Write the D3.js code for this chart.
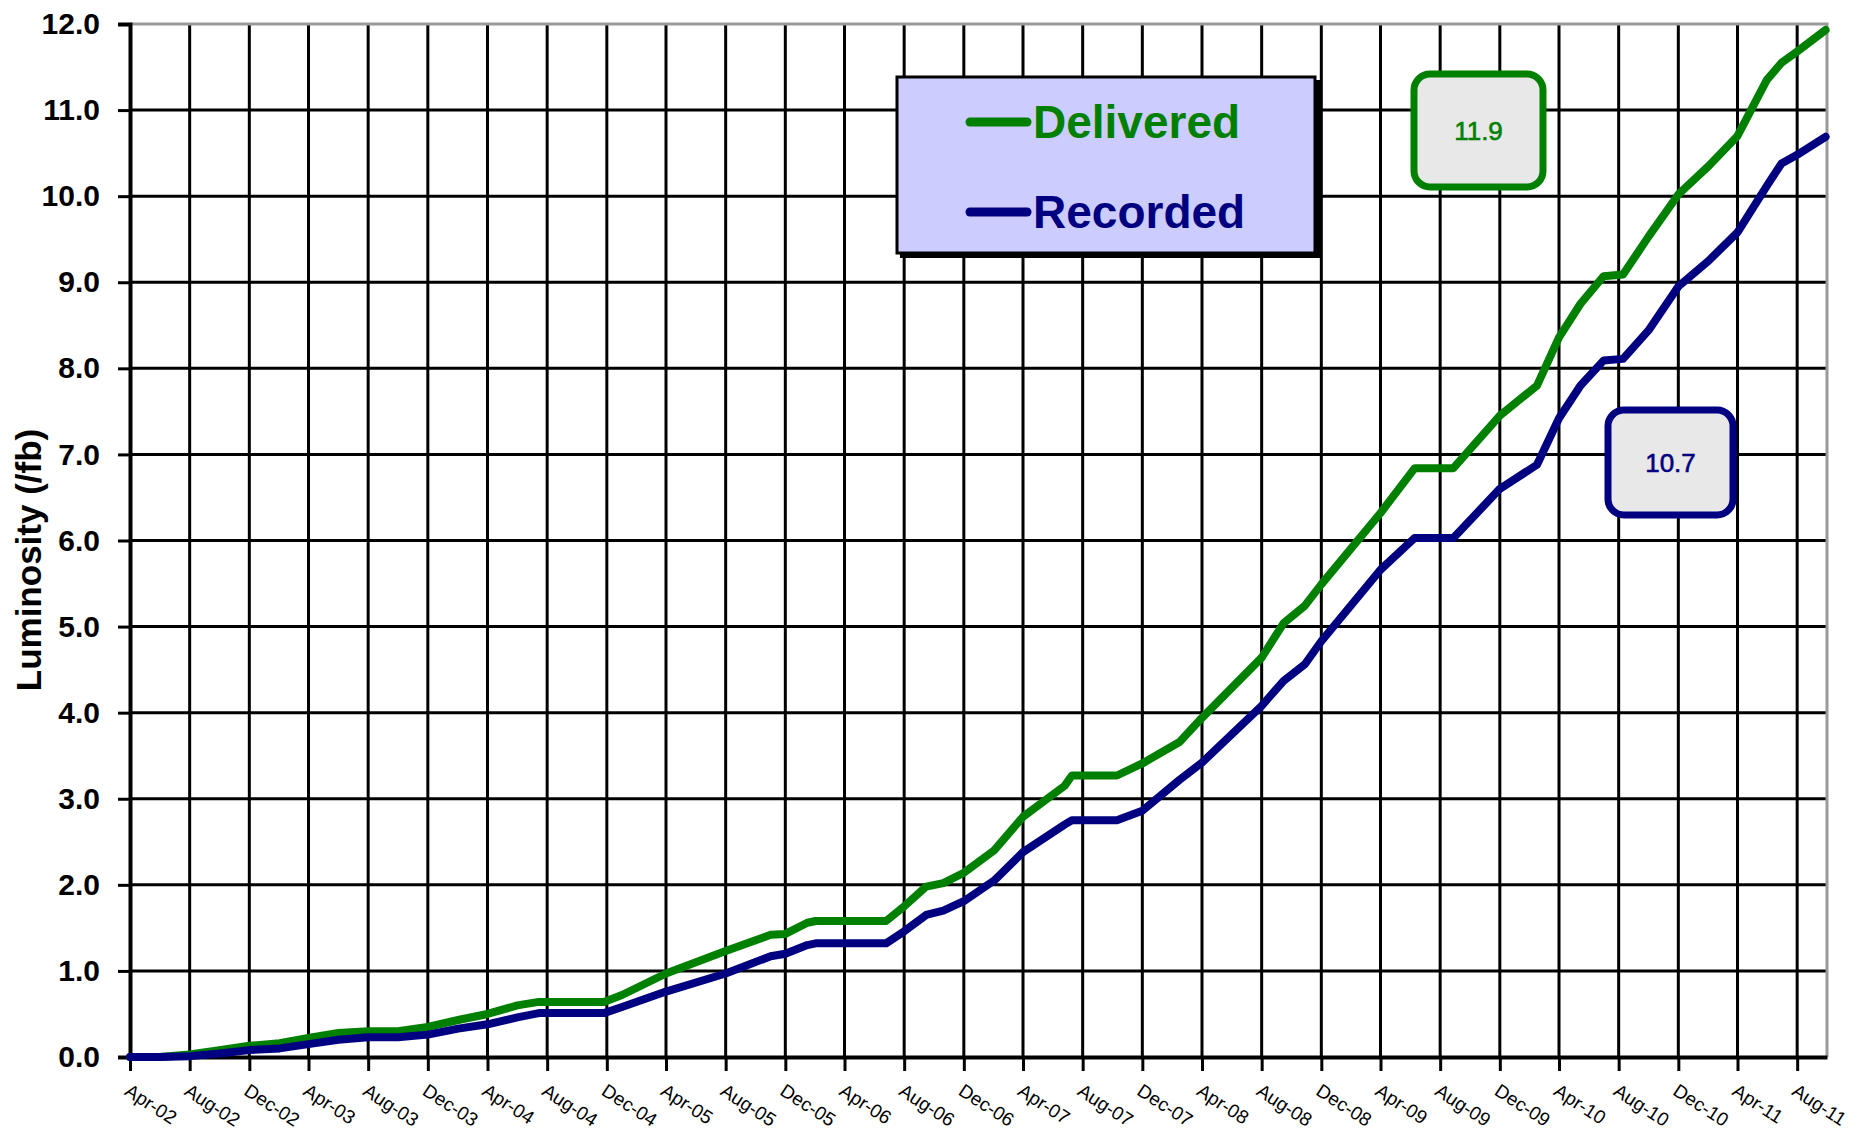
<!DOCTYPE html>
<html>
<head>
<meta charset="utf-8">
<script src="https://cdn.jsdelivr.net/npm/d3@7/dist/d3.min.js"></script>
<style>
  html, body { margin: 0; padding: 0; background: #ffffff; }
  svg { display: block; }
  text { font-family: "Liberation Sans", Arial, sans-serif; }
</style>
</head>
<body>
<svg id="chart" width="1874" height="1132"></svg>
<script>
// ---------------- DATA ----------------
const tickLabels = ["Apr-02","Aug-02","Dec-02","Apr-03","Aug-03","Dec-03","Apr-04","Aug-04","Dec-04",
  "Apr-05","Aug-05","Dec-05","Apr-06","Aug-06","Dec-06","Apr-07","Aug-07","Dec-07","Apr-08","Aug-08",
  "Dec-08","Apr-09","Aug-09","Dec-09","Apr-10","Aug-10","Dec-10","Apr-11","Aug-11"];
const yTickValues = [0,1,2,3,4,5,6,7,8,9,10,11,12];

const dates = ["2002-04-01","2002-06-01","2002-08-01","2002-10-01","2002-12-01","2003-02-01","2003-04-01",
  "2003-06-01","2003-08-01","2003-10-01","2003-12-01","2004-02-01","2004-04-01","2004-06-01","2004-07-15",
  "2004-11-25","2005-01-01","2005-04-01","2005-08-01","2005-11-01","2005-12-01","2006-01-15","2006-02-01",
  "2006-06-25","2006-08-01","2006-09-15","2006-10-20","2006-12-01","2007-02-01","2007-04-01","2007-06-25",
  "2007-07-10","2007-10-10","2007-12-01","2008-02-15","2008-04-01","2008-08-01","2008-09-15","2008-10-28",
  "2008-12-01","2009-04-01","2009-06-10","2009-08-28","2009-12-01","2010-02-15","2010-04-01","2010-05-15",
  "2010-07-01","2010-08-10","2010-10-01","2010-12-01","2011-02-01","2011-04-01","2011-05-31","2011-06-30",
  "2011-08-01","2011-09-28"];
const delivered = [0.00,0.00,0.03,0.08,0.13,0.16,0.22,
  0.28,0.30,0.30,0.35,0.43,0.50,0.60,0.64,
  0.64,0.72,0.97,1.23,1.42,1.43,1.56,1.58,
  1.58,1.75,1.98,2.02,2.14,2.40,2.79,3.15,
  3.27,3.27,3.41,3.66,3.94,4.64,5.04,5.24,
  5.49,6.32,6.84,6.84,7.45,7.80,8.36,8.75,
  9.07,9.09,9.53,10.02,10.35,10.70,11.35,11.55,
  11.68,11.93];
const recorded = [0.00,0.00,0.01,0.04,0.08,0.10,0.15,
  0.20,0.23,0.23,0.26,0.33,0.38,0.46,0.51,
  0.51,0.58,0.76,0.97,1.17,1.20,1.30,1.32,
  1.32,1.46,1.65,1.70,1.81,2.05,2.38,2.70,
  2.75,2.75,2.86,3.22,3.42,4.08,4.37,4.56,
  4.83,5.66,6.03,6.03,6.60,6.88,7.42,7.80,
  8.09,8.11,8.44,8.95,9.25,9.58,10.12,10.38,
  10.48,10.69];
const seriesNames = ["Delivered","Recorded"];
const seriesColors = ["#008000","#000080"];
const finalLabels = ["11.9","10.7"];

// ---------------- CHART ----------------
(function () {
const svg = d3.select("#chart");
const parseDay = d3.timeParse("%Y-%m-%d");
const parseTick = d3.timeParse("%b-%y");

const pLeft = 130, pRight = 1827, pTop = 24, pBottom = 1057;
const x = d3.scaleTime()
  .domain([parseDay("2002-04-01"), parseDay("2011-10-01")])
  .range([pLeft, pRight]);
const y = d3.scaleLinear().domain([0, 12]).range([pBottom, pTop]);

const tickDates = tickLabels.map(parseTick);

// horizontal gridlines
svg.append("g").selectAll("line").data(yTickValues.filter(v => v > 0 && v < 12)).join("line")
  .attr("x1", pLeft).attr("x2", pRight)
  .attr("y1", d => y(d)).attr("y2", d => y(d))
  .attr("stroke", "#000").attr("stroke-width", 3);

// vertical gridlines
svg.append("g").selectAll("line").data(tickDates.slice(1)).join("line")
  .attr("x1", d => x(d)).attr("x2", d => x(d))
  .attr("y1", pTop).attr("y2", pBottom)
  .attr("stroke", "#000").attr("stroke-width", 3);

// plot border (top + right gray)
svg.append("path")
  .attr("d", `M${pLeft},${pTop}H${pRight}V${pBottom}`)
  .attr("fill", "none").attr("stroke", "#9a9a9a").attr("stroke-width", 3);

// Y axis
const yAxis = d3.axisLeft(y).tickValues(yTickValues).tickFormat(d => d.toFixed(1))
  .tickSize(12).tickPadding(18);
const gy = svg.append("g").attr("transform", `translate(${pLeft},0)`).call(yAxis);
gy.select(".domain").attr("stroke", "#000").attr("stroke-width", 4);
gy.selectAll(".tick line").attr("stroke", "#000").attr("stroke-width", 3);
gy.selectAll(".tick text")
  .attr("font-family", "'Liberation Sans', Arial, sans-serif")
  .attr("font-size", 30).attr("font-weight", "bold").attr("fill", "#000");

// X axis
const xAxis = d3.axisBottom(x).tickValues(tickDates).tickFormat((d, i) => tickLabels[i])
  .tickSize(14).tickSizeOuter(0);
const gx = svg.append("g").attr("transform", `translate(0,${pBottom})`).call(xAxis);
gx.select(".domain").attr("stroke", "#000").attr("stroke-width", 4);
gx.selectAll(".tick line").attr("stroke", "#000").attr("stroke-width", 3);
gx.selectAll(".tick text")
  .attr("font-family", "'Liberation Sans', Arial, sans-serif")
  .attr("font-size", 19).attr("fill", "#000")
  .attr("text-anchor", "start")
  .attr("y", 0).attr("dy", 0)
  .attr("transform", "translate(-7,37) rotate(33)");

// Y axis title
svg.append("text")
  .attr("transform", "translate(41,560) rotate(-90)")
  .attr("text-anchor", "middle")
  .attr("font-size", 35).attr("font-weight", "bold").attr("fill", "#000")
  .text("Luminosity (/fb)");

// Lines
const seriesData = [delivered, recorded];
const line = d3.line().x(d => x(d.date)).y(d => y(d.value)).curve(d3.curveLinear);
seriesData.forEach((vals, si) => {
  const pts = dates.map((dt, i) => ({date: parseDay(dt), value: vals[i]}));
  svg.append("path").datum(pts)
    .attr("d", line)
    .attr("fill", "none")
    .attr("stroke", seriesColors[si])
    .attr("stroke-width", 8)
    .attr("stroke-linejoin", "round")
    .attr("stroke-linecap", "round");
});

// Legend
const lg = svg.append("g");
lg.append("rect").attr("x", 900).attr("y", 80).attr("width", 420).attr("height", 178).attr("fill", "#000");
lg.append("rect").attr("x", 897).attr("y", 77).attr("width", 418).attr("height", 176)
  .attr("fill", "#ccccff").attr("stroke", "#000").attr("stroke-width", 3);
seriesNames.forEach((name, i) => {
  const ly = 122 + i * 90;
  lg.append("line").attr("x1", 970).attr("x2", 1027).attr("y1", ly).attr("y2", ly)
    .attr("stroke", seriesColors[i]).attr("stroke-width", 9).attr("stroke-linecap", "round");
  lg.append("text").attr("x", 1033).attr("y", ly + 16)
    .attr("font-size", 46).attr("font-weight", "bold").attr("fill", seriesColors[i])
    .text(name);
});

// Final value boxes
const boxes = [
  {x: 1414, y: 74, w: 129, h: 113},
  {x: 1608, y: 410, w: 125, h: 105}
];
boxes.forEach((b, i) => {
  svg.append("rect").attr("x", b.x).attr("y", b.y).attr("width", b.w).attr("height", b.h)
    .attr("rx", 16).attr("ry", 16)
    .attr("fill", "#e8e8e8").attr("stroke", seriesColors[i]).attr("stroke-width", 7);
  svg.append("text").attr("x", b.x + b.w / 2).attr("y", b.y + b.h / 2 + 9)
    .attr("text-anchor", "middle")
    .attr("font-family", "'DejaVu Sans', Verdana, sans-serif")
    .attr("font-size", 26).attr("fill", seriesColors[i])
    .attr("stroke", seriesColors[i]).attr("stroke-width", 0.6)
    .text(finalLabels[i]);
});
})();
</script>
</body>
</html>
